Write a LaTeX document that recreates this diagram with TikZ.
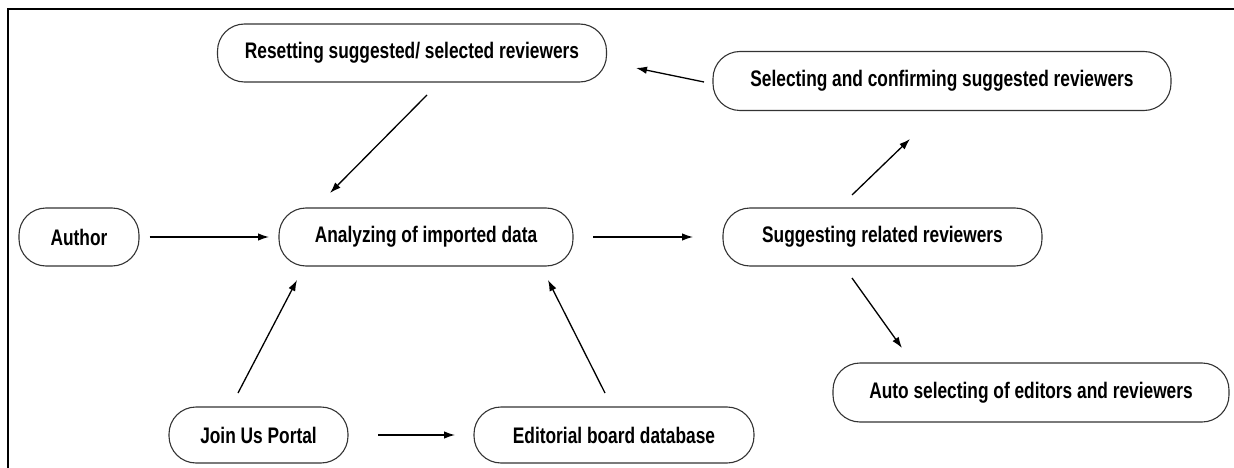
\documentclass[tikz,border=0pt]{standalone}
\usepackage{fontspec}
\setmainfont{Liberation Sans}[FakeStretch=0.77]
\usetikzlibrary{arrows.meta}
\begin{document}
\begin{tikzpicture}[x=1pt,y=-1pt,
  proc/.style={draw=black!80, line width=1.1pt, rounded corners=27pt, inner sep=0pt,
    minimum height=58pt, font=\fontsize{22.5}{26}\selectfont\bfseries},
  arr/.style={draw=black, line width=1.3pt, -{Latex[length=11pt,width=7.5pt]}}]
\useasboundingbox (0,0) rectangle (1234,468);
\draw[line width=2.6pt] (8,468) -- (8,9) -- (1234,9);
% nodes
\node[proc, minimum width=389pt] (reset) at (412,53) {Resetting suggested/ selected reviewers};
\node[proc, minimum width=458pt, minimum height=59pt] (select) at (942,81) {Selecting and confirming suggested reviewers};
\node[proc, minimum width=120pt] (author) at (79,237) {Author};
\node[proc, minimum width=294pt] (analyze) at (426,237) {Analyzing of imported data};
\node[proc, minimum width=319pt] (suggest) at (882.5,237) {Suggesting related reviewers};
\node[proc, minimum width=396pt, minimum height=59pt] (auto) at (1031,392.5) {Auto selecting of editors and reviewers};
\node[proc, minimum width=179pt, minimum height=56pt] (join) at (258.5,435) {Join Us Portal};
\node[proc, minimum width=280pt, minimum height=56pt] (edit) at (614,435) {Editorial board database};
% connector end points
\coordinate (a1) at (149.5,237); \coordinate (a2) at (269,237);
\coordinate (r1) at (427,95);    \coordinate (r2) at (330,193);
\coordinate (j1) at (238,393);   \coordinate (j2) at (297,280);
\coordinate (e1) at (605,393);   \coordinate (e2) at (548,280);
\coordinate (je1) at (378,435);  \coordinate (je2) at (455,435);
\coordinate (s1) at (593,237);   \coordinate (s2) at (693,237);
\coordinate (u1) at (852,195);   \coordinate (u2) at (910,139);
\coordinate (c1) at (704,82);    \coordinate (c2) at (636,68);
\coordinate (d1) at (852,278);   \coordinate (d2) at (902,348);
% connectors
\draw[arr] (a1) -- (a2);
\draw[arr] (r1) -- (r2);
\draw[arr] (j1) -- (j2);
\draw[arr] (e1) -- (e2);
\draw[arr] (je1) -- (je2);
\draw[arr] (s1) -- (s2);
\draw[arr] (u1) -- (u2);
\draw[arr] (c1) -- (c2);
\draw[arr] (d1) -- (d2);
\end{tikzpicture}
\end{document}
